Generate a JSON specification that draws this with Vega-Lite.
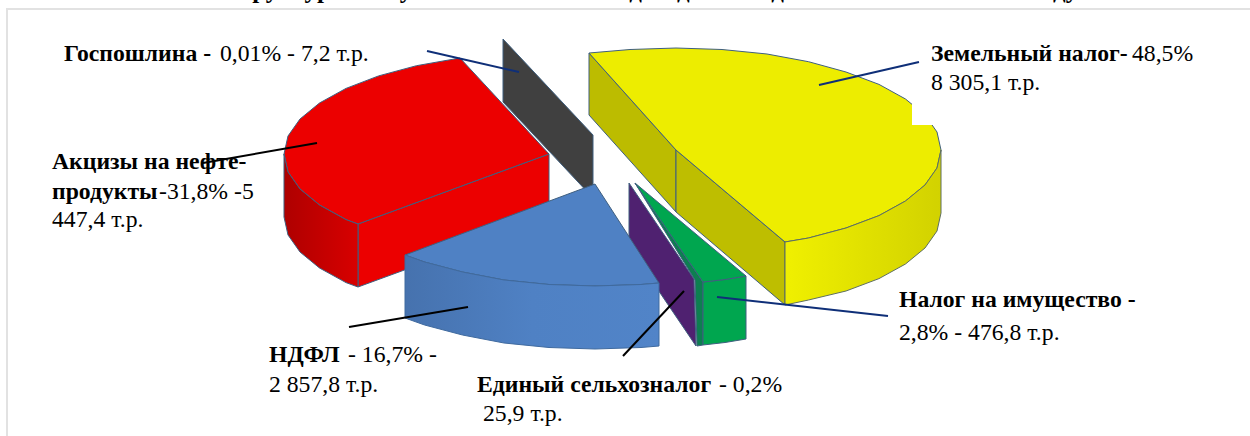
{
"$schema":"https://vega.github.io/schema/vega-lite/v6.json",
"width":1250,"height":436,"padding":0,"autosize":{"type":"none"},
"background":"white",
"view":{"stroke":null},
"config":{"view":{"stroke":null}},
"resolve":{"scale":{"color":"independent"}},
"datasets":{
"faces":[
{"part":"yellow_left","n":0,"x":589,"y":53},{"part":"yellow_left","n":1,"x":676,"y":150},{"part":"yellow_left","n":2,"x":676,"y":212},{"part":"yellow_left","n":3,"x":589,"y":115},{"part":"yellow_left","n":4,"x":589,"y":53},
{"part":"yellow_right","n":0,"x":676,"y":150},{"part":"yellow_right","n":1,"x":785,"y":242},{"part":"yellow_right","n":2,"x":785,"y":305},{"part":"yellow_right","n":3,"x":676,"y":212},{"part":"yellow_right","n":4,"x":676,"y":150},
{"part":"yellow_top","n":0,"x":676,"y":150},{"part":"yellow_top","n":1,"x":589,"y":53},{"part":"yellow_top","n":2,"x":630,"y":49.5},{"part":"yellow_top","n":3,"x":676,"y":48},{"part":"yellow_top","n":4,"x":722,"y":49.5},{"part":"yellow_top","n":5,"x":767,"y":54},{"part":"yellow_top","n":6,"x":808.5,"y":61.7},{"part":"yellow_top","n":7,"x":846,"y":72},{"part":"yellow_top","n":8,"x":879,"y":84.4},{"part":"yellow_top","n":9,"x":905.5,"y":99},{"part":"yellow_top","n":10,"x":925,"y":115},{"part":"yellow_top","n":11,"x":937,"y":132},{"part":"yellow_top","n":12,"x":941,"y":150},{"part":"yellow_top","n":13,"x":937,"y":168},{"part":"yellow_top","n":14,"x":925,"y":185},{"part":"yellow_top","n":15,"x":905.5,"y":201},{"part":"yellow_top","n":16,"x":879,"y":215.6},{"part":"yellow_top","n":17,"x":846,"y":228},{"part":"yellow_top","n":18,"x":808.5,"y":238},{"part":"yellow_top","n":19,"x":785,"y":242},{"part":"yellow_top","n":20,"x":676,"y":150},
{"part":"grey","n":0,"x":503,"y":39},{"part":"grey","n":1,"x":593,"y":135},{"part":"grey","n":2,"x":593,"y":198},{"part":"grey","n":3,"x":503,"y":102},{"part":"grey","n":4,"x":503,"y":39},
{"part":"red_front","n":0,"x":358,"y":224},{"part":"red_front","n":1,"x":549,"y":154},{"part":"red_front","n":2,"x":549,"y":217},{"part":"red_front","n":3,"x":358,"y":287},{"part":"red_front","n":4,"x":358,"y":224},
{"part":"red_top","n":0,"x":549,"y":154},{"part":"red_top","n":1,"x":460,"y":58},{"part":"red_top","n":2,"x":416.5,"y":65.7},{"part":"red_top","n":3,"x":378.6,"y":75.9},{"part":"red_top","n":4,"x":346,"y":88.4},{"part":"red_top","n":5,"x":319.5,"y":103},{"part":"red_top","n":6,"x":300,"y":119},{"part":"red_top","n":7,"x":288,"y":136},{"part":"red_top","n":8,"x":284,"y":154},{"part":"red_top","n":9,"x":288,"y":172},{"part":"red_top","n":10,"x":300,"y":189},{"part":"red_top","n":11,"x":319.5,"y":205},{"part":"red_top","n":12,"x":346,"y":219.6},{"part":"red_top","n":13,"x":358,"y":224},{"part":"red_top","n":14,"x":549,"y":154},
{"part":"purple","n":0,"x":629,"y":183},{"part":"purple","n":1,"x":694,"y":279},{"part":"purple","n":2,"x":696,"y":346},{"part":"purple","n":3,"x":629,"y":247},{"part":"purple","n":4,"x":629,"y":183},
{"part":"green_dark","n":0,"x":635,"y":183},{"part":"green_dark","n":1,"x":703,"y":282},{"part":"green_dark","n":2,"x":703,"y":345},{"part":"green_dark","n":3,"x":697,"y":346},{"part":"green_dark","n":4,"x":695,"y":280},{"part":"green_dark","n":5,"x":635,"y":183},
{"part":"green_front","n":0,"x":703,"y":282},{"part":"green_front","n":1,"x":725,"y":279.5},{"part":"green_front","n":2,"x":746,"y":276},{"part":"green_front","n":3,"x":746,"y":339},{"part":"green_front","n":4,"x":725,"y":342.5},{"part":"green_front","n":5,"x":703,"y":345},{"part":"green_front","n":6,"x":703,"y":282},
{"part":"green_top","n":0,"x":635,"y":183},{"part":"green_top","n":1,"x":746,"y":276},{"part":"green_top","n":2,"x":725,"y":279.5},{"part":"green_top","n":3,"x":703,"y":282},{"part":"green_top","n":4,"x":635,"y":183},
{"part":"blue_top","n":0,"x":595,"y":184},{"part":"blue_top","n":1,"x":405,"y":255},{"part":"blue_top","n":2,"x":424.6,"y":262},{"part":"blue_top","n":3,"x":462.5,"y":272},{"part":"blue_top","n":4,"x":504,"y":280},{"part":"blue_top","n":5,"x":549,"y":284.5},{"part":"blue_top","n":6,"x":595,"y":286},{"part":"blue_top","n":7,"x":641,"y":284.5},{"part":"blue_top","n":8,"x":659,"y":283},{"part":"blue_top","n":9,"x":595,"y":184}
],
"patch":[
{"part":"patch","n":0,"x":912,"y":103},{"part":"patch","n":1,"x":933,"y":103},{"part":"patch","n":2,"x":933,"y":125},{"part":"patch","n":3,"x":912,"y":125},{"part":"patch","n":4,"x":912,"y":103}
],
"yellowSide":[
{"part":"yellow_side","n":0,"x":941,"y":150},{"part":"yellow_side","n":1,"x":941,"y":213},{"part":"yellow_side","n":2,"x":937,"y":231},{"part":"yellow_side","n":3,"x":925,"y":248},{"part":"yellow_side","n":4,"x":905.5,"y":264},{"part":"yellow_side","n":5,"x":879,"y":278.6},{"part":"yellow_side","n":6,"x":846,"y":291},{"part":"yellow_side","n":7,"x":808.5,"y":300},{"part":"yellow_side","n":8,"x":785,"y":305},{"part":"yellow_side","n":9,"x":785,"y":242},{"part":"yellow_side","n":10,"x":808.5,"y":238},{"part":"yellow_side","n":11,"x":846,"y":228},{"part":"yellow_side","n":12,"x":879,"y":215.6},{"part":"yellow_side","n":13,"x":905.5,"y":201},{"part":"yellow_side","n":14,"x":925,"y":185},{"part":"yellow_side","n":15,"x":937,"y":168},{"part":"yellow_side","n":16,"x":941,"y":150}
],
"redSide":[
{"part":"red_side","n":0,"x":284,"y":154},{"part":"red_side","n":1,"x":284,"y":217},{"part":"red_side","n":2,"x":288,"y":235},{"part":"red_side","n":3,"x":300,"y":252},{"part":"red_side","n":4,"x":319.5,"y":268},{"part":"red_side","n":5,"x":346,"y":282.6},{"part":"red_side","n":6,"x":358,"y":287},{"part":"red_side","n":7,"x":358,"y":224},{"part":"red_side","n":8,"x":346,"y":219.6},{"part":"red_side","n":9,"x":319.5,"y":205},{"part":"red_side","n":10,"x":300,"y":189},{"part":"red_side","n":11,"x":288,"y":172},{"part":"red_side","n":12,"x":284,"y":154}
],
"blueSide":[
{"part":"blue_side","n":0,"x":405,"y":255},{"part":"blue_side","n":1,"x":405,"y":318},{"part":"blue_side","n":2,"x":424.6,"y":325},{"part":"blue_side","n":3,"x":462.5,"y":335},{"part":"blue_side","n":4,"x":504,"y":343},{"part":"blue_side","n":5,"x":549,"y":347.5},{"part":"blue_side","n":6,"x":595,"y":349},{"part":"blue_side","n":7,"x":641,"y":347.5},{"part":"blue_side","n":8,"x":659,"y":346},{"part":"blue_side","n":9,"x":659,"y":283},{"part":"blue_side","n":10,"x":641,"y":284.5},{"part":"blue_side","n":11,"x":595,"y":286},{"part":"blue_side","n":12,"x":549,"y":284.5},{"part":"blue_side","n":13,"x":504,"y":280},{"part":"blue_side","n":14,"x":462.5,"y":272},{"part":"blue_side","n":15,"x":424.6,"y":262},{"part":"blue_side","n":16,"x":405,"y":255}
],
"leaders":[
{"line":"frame","n":0,"x":7,"y":436},{"line":"frame","n":1,"x":7,"y":9},{"line":"frame","n":2,"x":1250,"y":9},
{"line":"Госпошлина","n":0,"x":427,"y":51},{"line":"Госпошлина","n":1,"x":519,"y":72},
{"line":"Земельный налог","n":0,"x":819,"y":85},{"line":"Земельный налог","n":1,"x":919,"y":62},
{"line":"Налог на имущество","n":0,"x":717,"y":297},{"line":"Налог на имущество","n":1,"x":888,"y":316},
{"line":"Акцизы","n":0,"x":203,"y":163},{"line":"Акцизы","n":1,"x":317,"y":143},
{"line":"Единый сельхозналог","n":0,"x":684,"y":291},{"line":"Единый сельхозналог","n":1,"x":623,"y":356},
{"line":"НДФЛ","n":0,"x":349,"y":327},{"line":"НДФЛ","n":1,"x":468,"y":307}
],
"bold":[
{"text":"Госпошлина -","x":64,"y":61},
{"text":"Акцизы на нефте-","x":52,"y":169},
{"text":"продукты","x":52,"y":199},
{"text":"Земельный налог-","x":931,"y":61},
{"text":"Налог на имущество -","x":899,"y":307},
{"text":"НДФЛ","x":269,"y":362},
{"text":"Единый сельхозналог","x":477,"y":392}
],
"regular":[
{"text":"0,01% - 7,2 т.р.","x":220,"y":61},
{"text":"-31,8% -5","x":159,"y":199},
{"text":"447,4 т.р.","x":52,"y":227},
{"text":"48,5%","x":1132,"y":61},
{"text":"8 305,1 т.р.","x":931,"y":90},
{"text":"2,8% - 476,8 т.р.","x":899,"y":340},
{"text":"- 16,7% -","x":348,"y":362},
{"text":"2 857,8  т.р.","x":269,"y":392},
{"text":"- 0,2%","x":719,"y":392},
{"text":"25,9 т.р.","x":483,"y":421}
],
"title":[{"text":"Структура поступлений налоговых доходов в бюджет поселения в 2022 году","x":650,"y":-2}]
},
"encoding":{
"x":{"field":"x","type":"quantitative","axis":null,"scale":{"domain":[0,1250],"nice":false,"zero":false}},
"y":{"field":"y","type":"quantitative","axis":null,"scale":{"domain":[0,436],"reverse":true,"nice":false,"zero":false}}
},
"layer":[
{"data":{"name":"faces"},"mark":{"type":"line","filled":true,"stroke":"#3f5f7f","strokeWidth":1,"interpolate":"linear"},
"encoding":{"order":{"field":"n","type":"quantitative"},"detail":{"field":"part"},
"color":{"field":"part","type":"nominal","legend":null,"scale":{"domain":["yellow_left","yellow_right","yellow_top","grey","red_front","red_top","purple","green_dark","green_front","green_top","blue_top"],"range":["#bcbc00","#bebe00","#eded00","#404040","#ec0000","#ec0000","#4f2170","#0d7f50","#00a64f","#00a64f","#4f81c4"]}}}},
{"data":{"name":"yellowSide"},"mark":{"type":"line","stroke":"#5f6f5f","strokeWidth":1,"fill":{"gradient":"linear","x1":0,"y1":0,"x2":1,"y2":0,"stops":[{"offset":0,"color":"#f0f000"},{"offset":1,"color":"#d2d200"}]}},
"encoding":{"order":{"field":"n","type":"quantitative"}}},
{"data":{"name":"redSide"},"mark":{"type":"line","stroke":"#3f5f7f","strokeWidth":1,"fill":{"gradient":"linear","x1":0,"y1":0,"x2":1,"y2":0,"stops":[{"offset":0,"color":"#ae0000"},{"offset":1,"color":"#d80000"}]}},
"encoding":{"order":{"field":"n","type":"quantitative"}}},
{"data":{"name":"blueSide"},"mark":{"type":"line","stroke":"#3f6a9f","strokeWidth":1,"fill":{"gradient":"linear","x1":0,"y1":0,"x2":1,"y2":0,"stops":[{"offset":0,"color":"#4672ae"},{"offset":0.5,"color":"#4f81c4"},{"offset":1,"color":"#5184c8"}]}},
"encoding":{"order":{"field":"n","type":"quantitative"}}},
{"data":{"name":"patch"},"mark":{"type":"line","stroke":null,"fill":"#ffffff"},
"encoding":{"order":{"field":"n","type":"quantitative"}}},
{"data":{"name":"leaders"},"mark":{"type":"line","strokeWidth":2},
"encoding":{"order":{"field":"n","type":"quantitative"},"detail":{"field":"line"},
"color":{"field":"line","type":"nominal","legend":null,"scale":{"domain":["frame","Госпошлина","Земельный налог","Налог на имущество","Акцизы","Единый сельхозналог","НДФЛ"],"range":["#e2e2e2","#0f2f78","#0f2f78","#0f2f78","#000000","#000000","#000000"]}}}},
{"data":{"name":"bold"},"mark":{"type":"text","font":"Liberation Serif","fontSize":23.7,"fontWeight":"bold","align":"left","baseline":"alphabetic","color":"#000000"},"encoding":{"text":{"field":"text"}}},
{"data":{"name":"regular"},"mark":{"type":"text","font":"Liberation Serif","fontSize":23.7,"align":"left","baseline":"alphabetic","color":"#000000"},"encoding":{"text":{"field":"text"}}},
{"data":{"name":"title"},"mark":{"type":"text","font":"Liberation Serif","fontSize":25,"fontWeight":"bold","align":"center","baseline":"alphabetic","color":"#000000"},"encoding":{"text":{"field":"text"}}}
]
}
